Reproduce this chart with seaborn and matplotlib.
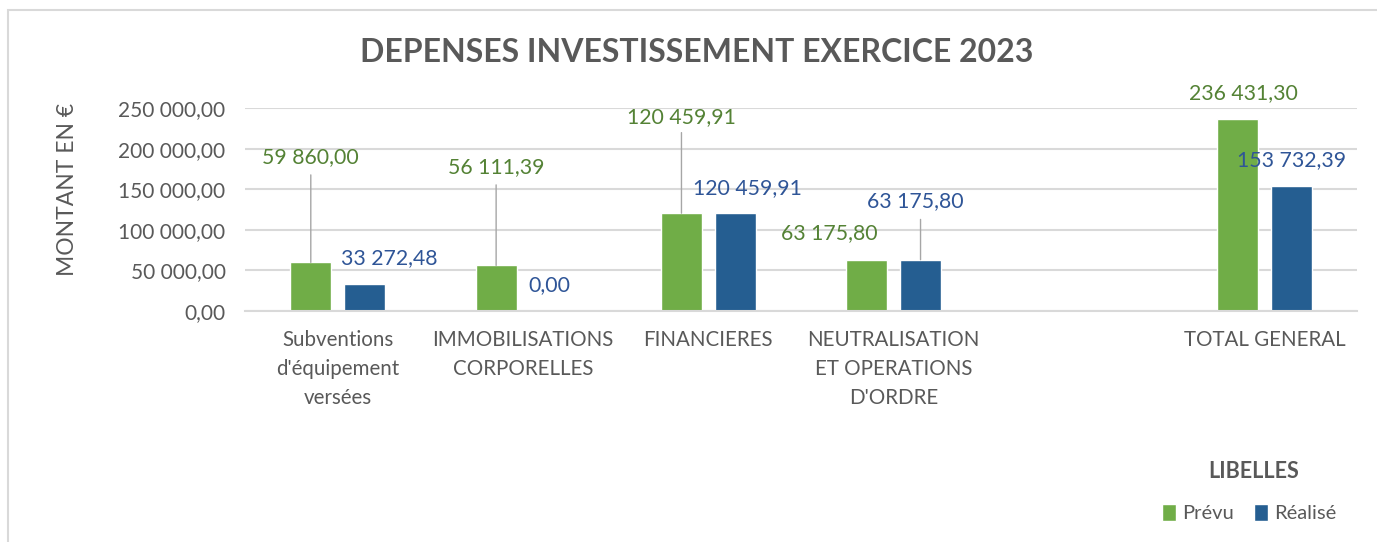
import numpy as np
import pandas as pd
import matplotlib
matplotlib.use("Agg")
import matplotlib.pyplot as plt
from matplotlib.patches import Rectangle
import seaborn as sns

# Data
categories = ["Subventions\nd'équipement\nversées", "IMMOBILISATIONS\nCORPORELLES", "FINANCIERES",
              "NEUTRALISATION\nET OPERATIONS\nD'ORDRE", " ", "TOTAL GENERAL"]
prevu = [59860.00, 56111.39, 120459.91, 63175.80, np.nan, 236431.30]
realise = [33272.48, 0.00, 120459.91, 63175.80, np.nan, 153732.39]
series = ["Prévu", "Réalisé"]
yticks = [0, 50000, 100000, 150000, 200000, 250000]

green = "#70AD47"
blue = "#255E91"
green_txt = "#548235"
blue_txt = "#2F5597"
grey_txt = "#595959"

# label offsets (points) and leader line length (points), per bar
prevu_off = [(0, 76, 63), (0, 71, 58), (0, 69, 58), (-27, 19, 0), None, (4, 19, 0)]
realise_off = [(18, 19, 0), (0, 19, 0), (9, 18, 0), (-4, 42, 29), None, (0, 19, 0)]

df = pd.DataFrame({
    "cat": categories * 2,
    "serie": [series[0]] * len(categories) + [series[1]] * len(categories),
    "val": prevu + realise,
})

sns.set_style("white")
plt.rcParams["font.family"] = ["Lato", "DejaVu Sans"]

fig = plt.figure(figsize=(13.77, 5.42), dpi=100)
ax = fig.add_axes([245 / 1377, 1 - 311 / 542, (1357 - 245) / 1377, (311 - 108) / 542])

sns.barplot(data=df.dropna(), x="cat", y="val", hue="serie", order=categories,
            hue_order=series, palette=[green, blue], width=0.58, gap=0.24,
            saturation=1, errorbar=None, ax=ax)

ax.set_ylim(0, 250000)
ax.set_xlim(-0.5, len(categories) - 0.5)
ax.set_yticks(yticks)
ax.set_yticklabels([f"{v:,.2f}".replace(",", " ").replace(".", ",") for v in yticks],
                   fontsize=15, color=grey_txt)
ax.tick_params(axis="x", labelsize=14.8, colors=grey_txt, length=0, pad=14)
ax.tick_params(axis="y", length=0, pad=14)
for lab in ax.get_xticklabels():
    lab.set_linespacing(1.55)
    lab.set_verticalalignment("top")
ax.set_xlabel("")
ax.set_ylabel("MONTANT EN €", fontsize=16.5, color=grey_txt)
ax.yaxis.set_label_coords(-0.15, 0.6)
ax.grid(axis="y", color="#D9D9D9", lw=1.5)
ax.set_axisbelow(True)
for s in ["top", "right", "left"]:
    ax.spines[s].set_visible(False)
ax.spines["bottom"].set_color("#D9D9D9")
ax.spines["bottom"].set_linewidth(1.5)

off = 0.58 / 4
fmt = lambda v: f"{v:,.2f}".replace(",", " ").replace(".", ",")
for vals, offs, sign, col in [(prevu, prevu_off, -1, green_txt), (realise, realise_off, 1, blue_txt)]:
    for i, (v, o) in enumerate(zip(vals, offs)):
        if o is None or np.isnan(v):
            continue
        x = i + sign * off
        dx, dy, line = o
        ax.annotate(fmt(v), (x, v), xytext=(dx, dy), textcoords="offset points",
                    ha="center", va="center", fontsize=15.3, color=col, annotation_clip=False)
        if line:
            ax.annotate("", (x, v), xytext=(0, line), textcoords="offset points",
                        arrowprops=dict(arrowstyle="-", color="#A6A6A6", lw=1,
                                        shrinkA=0, shrinkB=0))

handles, labels = ax.get_legend_handles_labels()
ax.get_legend().remove()
fig.legend(handles, labels, loc="center", bbox_to_anchor=(1249 / 1377, 1 - 513 / 542),
           ncol=2, frameon=False, fontsize=14.5, handlelength=0.7, handleheight=0.9,
           handletextpad=0.3, columnspacing=1.0, labelcolor=grey_txt)
fig.text(1254 / 1377, 1 - 472 / 542, "LIBELLES", ha="center", va="center",
         fontsize=15.5, fontweight="bold", color=grey_txt)

fig.text(697 / 1377, 1 - 52 / 542, "DEPENSES INVESTISSEMENT EXERCICE 2023", ha="center",
         va="center", fontsize=23, fontweight="bold", color=grey_txt)

fig.patches.append(Rectangle((8 / 1377, -0.1), 1.2, 1.1 - 10 / 542, transform=fig.transFigure,
                             fill=False, edgecolor="#D9D9D9", lw=1.5))

fig.savefig("out.png", dpi=100)
